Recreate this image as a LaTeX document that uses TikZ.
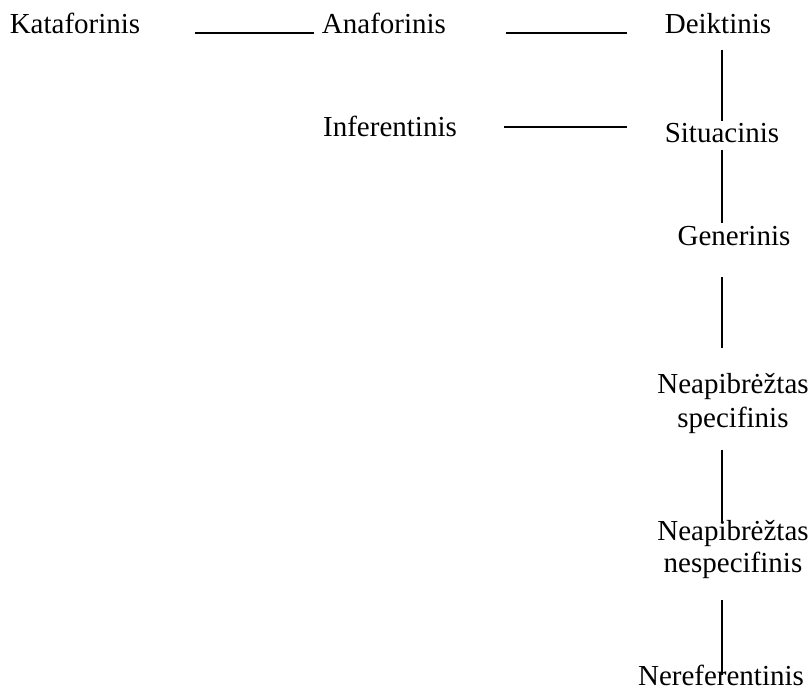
\documentclass[tikz,border=0pt]{standalone}
\usepackage{fontspec}
\setmainfont{Liberation Serif}
\usetikzlibrary{calc}
\begin{document}
\begin{tikzpicture}[x=1pt,y=-1pt,
  lbl/.style={inner sep=0pt, outer sep=0pt, anchor=base, font=\fontsize{29}{34}\selectfont},
  conn/.style={line width=1.3pt}]
\useasboundingbox (0,0) rectangle (812,690);
\coordinate (spine) at (722,0);
% nodes
\node[lbl] (kata) at (75,34) {Kataforinis};
\node[lbl] (ana) at (384,34) {Anaforinis};
\node[lbl] (deik) at (718,34) {Deiktinis};
\node[lbl] (infer) at (390,137) {Inferentinis};
\node[lbl] (situ) at (722,143) {Situacinis};
\node[lbl] (gen) at (734,246) {Generinis};
\node[lbl] (nspec) at (733,427) {\begin{tabular}[b]{@{}c@{}}Neapibrėžtas\\specifinis\end{tabular}};
\node[lbl] (nnspec) at (733,572) {\begin{tabular}[b]{@{}c@{}}Neapibrėžtas\\[-2pt]nespecifinis\end{tabular}};
\node[lbl] (nere) at (721,685) {Nereferentinis};
% horizontal connectors
\draw[conn] ($(kata.base east)+(55,-1)$) -- ($(ana.base west)+(-8,-1)$);
\draw[conn] ($(ana.base east)+(60,-1)$) -- ($(deik.base west)+(-38,-1)$);
\draw[conn] ($(infer.base east)+(47,-10)$) -- ($(infer.base -| situ.west)+(-38,-10)$);
% vertical connectors
\draw[conn] ($(deik.base -| spine)+(0,16)$) -- ($(situ.base -| spine)+(0,-22)$);
\draw[conn] ($(situ.base -| spine)+(0,7)$) -- ($(gen.base -| spine)+(0,-23)$);
\draw[conn] ($(gen.base -| spine)+(0,31)$) -- ($(nspec.base -| spine)+(0,-79)$);
\draw[conn] ($(nspec.base -| spine)+(0,23)$) -- ($(nnspec.base -| spine)+(0,-50)$);
\draw[conn] ($(nnspec.base -| spine)+(0,28)$) -- ($(nere.base -| spine)+(0,-10)$);
\end{tikzpicture}
\end{document}
